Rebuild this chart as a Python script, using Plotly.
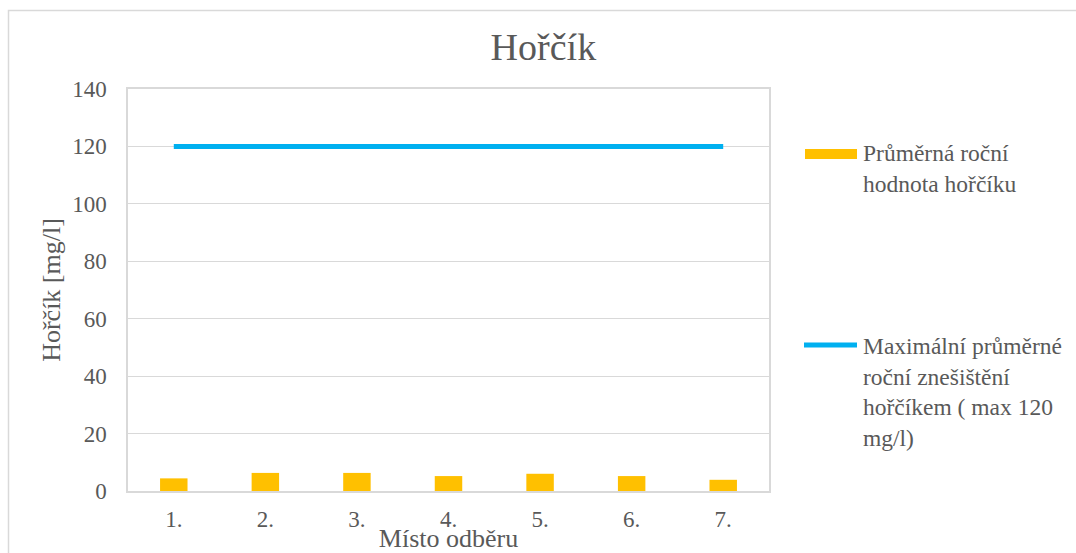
import plotly.graph_objects as go

categories = ["1.", "2.", "3.", "4.", "5.", "6.", "7."]
mean_values = [4.4, 6.3, 6.3, 5.2, 6.0, 5.2, 3.9]
limit_values = [120, 120, 120, 120, 120, 120, 120]
y_ticks = [0, 20, 40, 60, 80, 100, 120, 140]

bar_name = "Průměrná roční<br>hodnota hořčíku"
line_name = "Maximální průměrné<br>roční znešištění<br>hořčíkem ( max 120<br>mg/l)"

W, H = 1076, 553
L, R, T, B = 128, 769, 89, 491
FONT = "Liberation Serif, Times New Roman, serif"
GREY = "#595959"

def px(x):
    return (x - L) / (R - L)

def py(y):
    return (B - y) / (B - T)

fig = go.Figure()
fig.add_trace(go.Bar(x=categories, y=mean_values, name=bar_name,
                     marker=dict(color="#FFC000", line=dict(width=0)),
                     width=0.3, showlegend=False))
fig.add_trace(go.Scatter(x=categories, y=limit_values, name=line_name, mode="lines",
                         line=dict(color="#00B0F0", width=5), showlegend=False))

shapes = [
    # outer chart border
    dict(type="rect", xref="paper", yref="paper", x0=px(8.5), x1=px(1090), y0=py(570), y1=py(10.5),
         line=dict(color="#D9D9D9", width=1.5), fillcolor="rgba(0,0,0,0)", layer="below"),
    # legend symbols
    dict(type="rect", xref="paper", yref="paper", x0=px(805), x1=px(857), y0=py(159), y1=py(149),
         line=dict(width=0), fillcolor="#FFC000"),
    dict(type="line", xref="paper", yref="paper", x0=px(804), x1=px(857), y0=py(345), y1=py(345),
         line=dict(color="#00B0F0", width=5)),
]

annotations = [
    dict(text=bar_name, xref="paper", yref="paper", x=px(861), y=py(138), xanchor="left", yanchor="top",
         align="left", showarrow=False, font=dict(family=FONT, size=23.5, color=GREY)),
    dict(text=line_name, xref="paper", yref="paper", x=px(861), y=py(331), xanchor="left", yanchor="top",
         align="left", showarrow=False, font=dict(family=FONT, size=23.5, color=GREY)),
]

fig.update_layout(
    width=W, height=H,
    margin=dict(l=L, r=W - R, t=T, b=H - B, autoexpand=False),
    paper_bgcolor="white", plot_bgcolor="white",
    font=dict(family=FONT, color=GREY),
    title=dict(text="Hořčík", x=0.505, xref="container", xanchor="center",
               y=1 - 47 / H, yref="container", yanchor="middle",
               font=dict(family=FONT, size=38, color=GREY)),
    bargap=0.7,
    shapes=shapes,
    annotations=annotations,
    showlegend=False,
)
fig.update_xaxes(showline=True, mirror=True, linecolor="#D9D9D9", linewidth=1.5,
                 showgrid=False, ticks="", tickfont=dict(family=FONT, size=23, color=GREY),
                 ticklabelstandoff=7,
                 title=dict(text="Místo odběru", font=dict(family=FONT, size=26, color=GREY), standoff=1))
fig.update_yaxes(range=[0, 140], tickvals=y_ticks, showline=True, mirror=True,
                 linecolor="#D9D9D9", linewidth=1.5, gridcolor="#D9D9D9", gridwidth=1.2,
                 zeroline=False, ticks="", ticklabelstandoff=15,
                 tickfont=dict(family=FONT, size=23, color=GREY),
                 title=dict(text="Hořčík [mg/l]", font=dict(family=FONT, size=26, color=GREY), standoff=4))

fig.write_html("out.html", config={"displayModeBar": False},
               post_script="document.body.style.margin='0';")
